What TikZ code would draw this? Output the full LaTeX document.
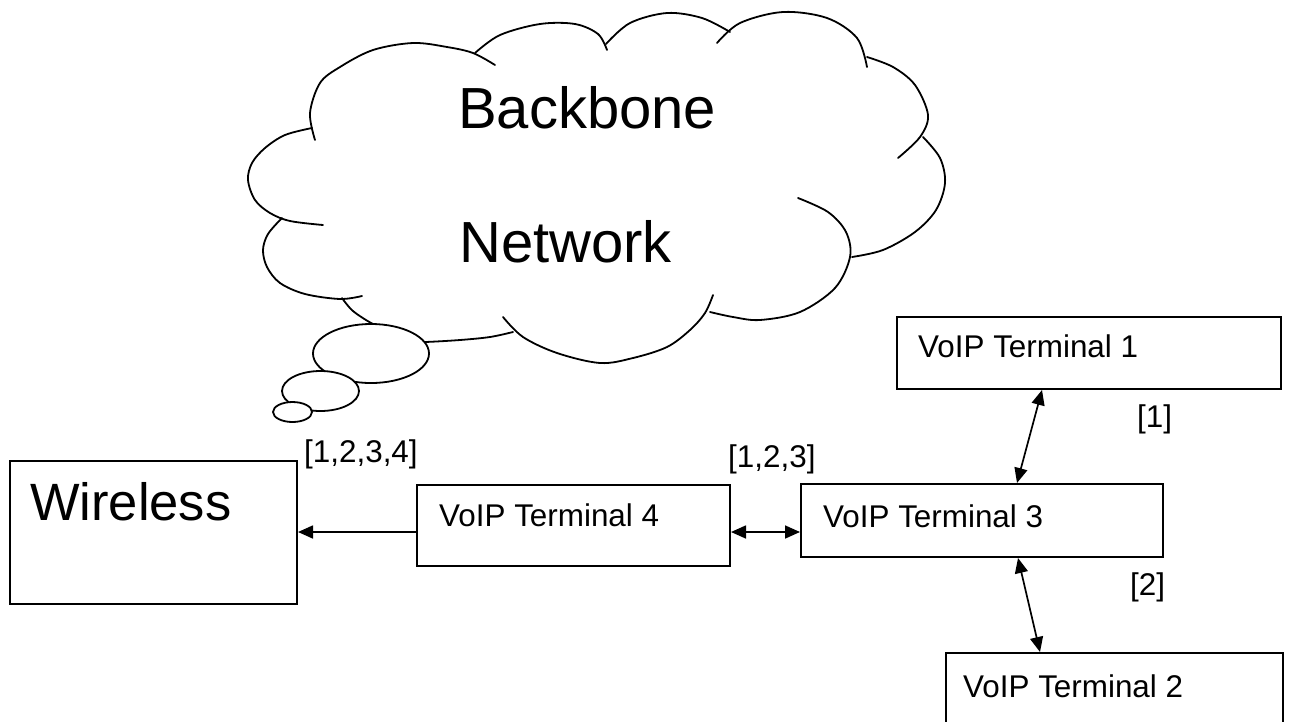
\documentclass[tikz,border=0pt]{standalone}
\usepackage{fontspec}
\setmainfont{Liberation Sans}
\usetikzlibrary{arrows.meta,calc,shapes.geometric}
\begin{document}
\begin{tikzpicture}[x=1pt,y=-1pt,
  box/.style={draw,line width=2pt,rectangle,inner sep=0pt,anchor=north west},
  boxtext/.style={anchor=base west,inner sep=0pt,font=\fontsize{31.4}{36}\selectfont},
  bigtext/.style={anchor=base west,inner sep=0pt,font=\fontsize{58}{66}\selectfont},
  puff/.style={line width=1.8pt,line cap=round,line join=round},
  bubble/.style={draw,ellipse,fill=white,line width=1.8pt,inner sep=0pt},
  link/.style={line width=1.7pt},
  tip/.tip={Triangle[length=15pt,width=13pt]},
  duplex/.style={link,tip-tip},
  simplex/.style={link,-tip}
]
\useasboundingbox (0,0) rectangle (1290,721);
\clip (0,0) rectangle (1290,721);

% ---- backbone cloud, one lobe at a time (clockwise from the upper left)
\begin{scope}[puff]
\draw plot[smooth,tension=0.55] coordinates {(315,140) (310,113) (320,83) (340,67) (373,50) (413,43) (447,47) (473,53) (495,65)};
\draw plot[smooth,tension=0.55] coordinates {(475,53) (500,35) (540,24) (575,24) (598,34) (607,50)};
\draw plot[smooth,tension=0.55] coordinates {(606,44) (630,23) (667,13) (702,18) (730,32)};
\draw plot[smooth,tension=0.55] coordinates {(717,43) (740,23) (783,12) (827,18) (857,38) (867,67)};
\draw plot[smooth,tension=0.55] coordinates {(867,57) (893,67) (915,85) (928,115) (920,137) (898,158)};
\draw plot[smooth,tension=0.55] coordinates {(923,137) (940,158) (945,183) (936,210) (915,232) (883,250) (852,257)};
\draw plot[smooth,tension=0.55] coordinates {(798,198) (828,212) (846,232) (850,257) (835,288) (800,312) (760,320) (733,317) (710,312)};
\draw plot[smooth,tension=0.55] coordinates {(713,295) (705,313) (690,330) (667,347) (633,358) (600,363) (557,353) (523,337) (503,317)};
\draw plot[smooth,tension=0.55] coordinates {(513,332) (490,337) (460,340) (425,342) (400,342)};
\draw plot[smooth,tension=0.55] coordinates {(342,298) (353,311) (373,324) (395,333)};
\draw plot[smooth,tension=0.55] coordinates {(362,296) (340,299) (305,294) (280,283) (267,267) (263,250) (268,234) (282,218)};
\draw plot[smooth,tension=0.55] coordinates {(323,225) (290,221) (270,213) (255,200) (248,180) (252,163) (265,148) (285,135) (312,128)};
\end{scope}

% ---- thought bubbles below the cloud
\node[bubble,minimum width=116pt,minimum height=59pt] (bub1) at (371,353.5) {};
\node[bubble,minimum width=77pt,minimum height=40pt] (bub2) at (320.5,391) {};
\node[bubble,minimum width=39pt,minimum height=20pt] (bub3) at (292.5,412) {};

\node[bigtext] (bbtxt) at (458,128) {Backbone};
\node[bigtext] (nwtxt) at (459,262) {Network};

% ---- boxes
\node[box,minimum width=287pt,minimum height=143pt] (wl) at (9,460) {};
\node[anchor=base west,inner sep=0pt,font=\fontsize{52.5}{60}\selectfont] (wltxt) at (30,520) {Wireless};

\node[box,minimum width=384pt,minimum height=72pt] (t1) at (896,316) {};
\node[boxtext] (t1txt) at (918,357) {VoIP Terminal 1};

\node[box,minimum width=362pt,minimum height=73pt] (t3) at (800,483) {};
\node[boxtext] (t3txt) at (823,527) {VoIP Terminal 3};

\node[box,minimum width=313pt,minimum height=81pt] (t4) at (416,484) {};
\node[boxtext] (t4txt) at (439,526) {VoIP Terminal 4};

\node[box,minimum width=337pt,minimum height=100pt] (t2) at (945,652) {};
\node[boxtext] (t2txt) at (963,697) {VoIP Terminal 2};

% ---- link labels
\node[boxtext] (l1234) at (304,462) {[1,2,3,4]};
\node[boxtext] (l123) at (728,467) {[1,2,3]};
\node[boxtext] (l1) at (1137,427) {[1]};
\node[boxtext] (l2) at (1130,595) {[2]};

% ---- links
\coordinate (row) at (0,532);
\draw[simplex] (t4.west |- row) -- (wl.east |- row);
\draw[duplex] (t4.east |- row) -- (t3.west |- row);
\draw[duplex] ($(t1.south west)+(146,0)$) -- ($(t3.north west)+(217,0)$);
\draw[duplex] ($(t3.south west)+(218,0)$) -- ($(t2.north west)+(95,0)$);
\end{tikzpicture}
\end{document}
